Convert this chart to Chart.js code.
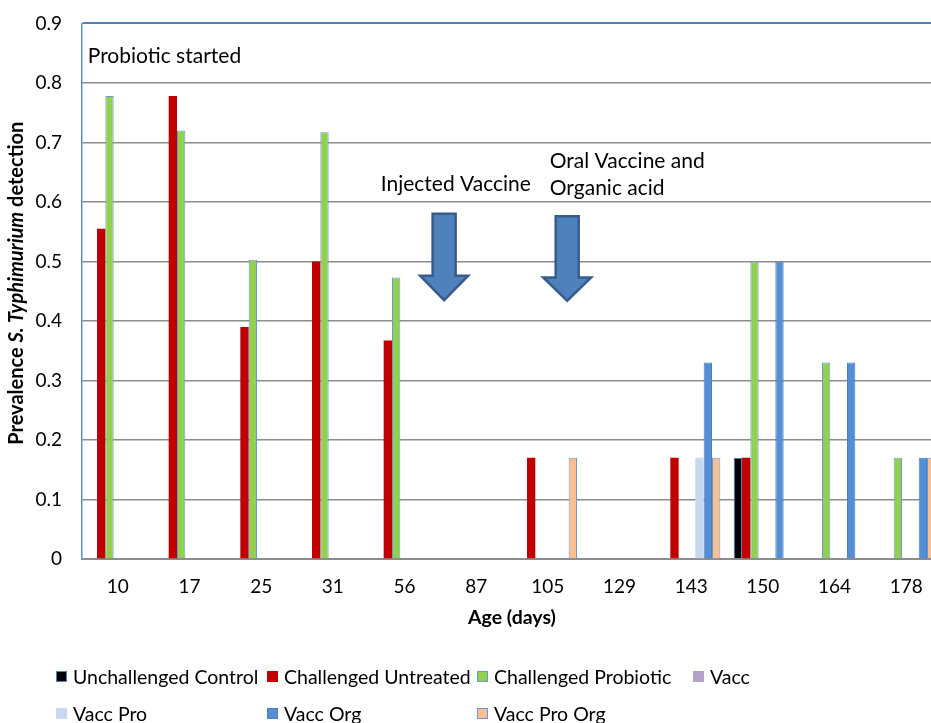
<!DOCTYPE html>
<html><head><meta charset="utf-8">
<script src="https://cdn.jsdelivr.net/npm/chart.js@4"></script>
<style>
html,body{margin:0;padding:0;background:#fff;overflow:hidden;width:931px;height:723px;}
#wrap{position:absolute;left:0;top:-8px;width:945px;height:731px;}
#legend{position:absolute;left:0;top:0;width:931px;height:723px;font-family:Lato,sans-serif;font-size:19.5px;color:#000;}
.li{position:absolute;display:flex;align-items:center;white-space:nowrap;height:24px;transform:translateY(-50%);}
.sw{width:11px;height:11px;box-sizing:border-box;margin-right:6px;}
</style></head><body>
<div id="wrap"><canvas id="c" width="945" height="731"></canvas></div>
<div id="legend"></div>
<script>
// ---- data ----
const categories = ['10','17','25','31','56','87','105','129','143','150','164','178'];
const seriesNames = ['Unchallenged Control','Challenged Untreated','Challenged Probiotic','Vacc','Vacc Pro','Vacc Org','Vacc Pro Org'];
const unchallengedControl = [null,null,null,null,null,null,null,null,null,0.17,null,null];
const challengedUntreated = [0.555,0.778,0.39,0.5,0.367,null,0.17,null,0.17,0.17,null,null];
const challengedProbiotic = [0.778,0.72,0.503,0.717,0.473,null,null,null,null,0.5,0.33,0.17];
const vacc = [null,null,null,null,null,null,null,null,null,null,null,null];
const vaccPro = [null,null,null,null,null,null,null,null,0.17,null,null,null];
const vaccOrg = [null,null,null,null,null,null,null,null,0.33,0.5,0.33,0.17];
const vaccProOrg = [null,null,null,null,null,null,0.17,null,0.17,null,null,0.17];
const yTicks = [0,0.1,0.2,0.3,0.4,0.5,0.6,0.7,0.8,0.9];
const yTickLabels = ['0','0.1','0.2','0.3','0.4','0.5','0.6','0.7','0.8','0.9'];
const xTitle = 'Age (days)';
const yTitleParts = [['Prevalence ', false], ['S. Typhimurium', true], [' detection', false]];

// annotations (positions expressed in axis units)
const textNotes = [
  {text:'Probiotic started', x:-0.42, y:0.845},
  {text:'Injected Vaccine', x:3.669, y:0.63},
  {text:'Oral Vaccine and', x:6.027, y:0.669},
  {text:'Organic acid', x:6.027, y:0.623}
];
const arrows = [
  {x:4.553, top:0.58, neck:0.476, tip:0.435},
  {x:6.27, top:0.576, neck:0.473, tip:0.434}
];

const styles = [
  {bg:'#000000', bd:'#4f81bd', bw:1},
  {bg:'#c00000', bd:'#c00000', bw:0},
  {bg:'#92d050', bd:'#6a9ad6', bw:1},
  {bg:'#b3a2c7', bd:'#b3a2c7', bw:0},
  {bg:'#c6d9f1', bd:'#c6d9f1', bw:0},
  {bg:'#558ed5', bd:'#4a7fc0', bw:1},
  {bg:'#fac090', bd:'#6a9ad6', bw:1}
];
const seriesData = [unchallengedControl, challengedUntreated, challengedProbiotic, vacc, vaccPro, vaccOrg, vaccProOrg];

const FONT = 'Lato';

const overlay = {
  id:'overlay',
  afterDatasetsDraw(chart){
    const ctx = chart.ctx, xs = chart.scales.x, ys = chart.scales.y;
    ctx.save();
    // arrows
    arrows.forEach(a=>{
      const cx = xs.getPixelForValue(a.x);
      const yt = ys.getPixelForValue(a.top), yn = ys.getPixelForValue(a.neck), yp = ys.getPixelForValue(a.tip);
      const sw = 11.5, hw = 24;
      ctx.beginPath();
      ctx.moveTo(cx-sw, yt); ctx.lineTo(cx+sw, yt); ctx.lineTo(cx+sw, yn);
      ctx.lineTo(cx+hw, yn); ctx.lineTo(cx, yp); ctx.lineTo(cx-hw, yn);
      ctx.lineTo(cx-sw, yn); ctx.closePath();
      ctx.fillStyle = '#4f81bd'; ctx.fill();
      ctx.lineWidth = 2.5; ctx.strokeStyle = '#385d8a'; ctx.lineJoin='miter'; ctx.stroke();
    });
    // texts
    ctx.fillStyle = '#000';
    ctx.font = '21px ' + FONT;
    ctx.textAlign = 'left'; ctx.textBaseline = 'middle';
    textNotes.forEach(t=>{
      ctx.fillText(t.text, xs.getPixelForValue(t.x), ys.getPixelForValue(t.y));
    });
    // y title
    ctx.translate(17, (chart.chartArea.top + chart.chartArea.bottom)/2 - 8);
    ctx.rotate(-Math.PI/2);
    let total = 0;
    const fonts = yTitleParts.map(p => (p[1] ? 'italic ' : '') + 'bold 20px ' + FONT);
    yTitleParts.forEach((p,i)=>{ ctx.font = fonts[i]; total += ctx.measureText(p[0]).width; });
    let x = -total/2;
    yTitleParts.forEach((p,i)=>{ ctx.font = fonts[i]; ctx.fillText(p[0], x, 0); x += ctx.measureText(p[0]).width; });
    ctx.restore();
  }
};

const chart = new Chart(document.getElementById('c'), {
  type:'bar',
  data:{
    labels: categories,
    datasets: seriesNames.map((n,i)=>({
      label:n, data:seriesData[i],
      backgroundColor:styles[i].bg, borderColor:styles[i].bd, borderWidth:styles[i].bw,
      categoryPercentage:0.814, barPercentage:1
    }))
  },
  options:{
    responsive:false, animation:false,
    layout:{autoPadding:false, padding:{left:0, top:22, right:3, bottom:94}},
    plugins:{legend:{display:false}, tooltip:{enabled:false}},
    scales:{
      x:{
        grid:{display:false, drawTicks:false},
        border:{display:true, color:'#8c8c8c', width:2},
        ticks:{font:{family:FONT, size:19}, color:'#000', padding:16, maxRotation:0, autoSkip:false},
        title:{display:true, text:xTitle, font:{family:FONT, size:19.5, weight:'bold'}, color:'#000', padding:0},
        afterFit(s){ s.height = 70; }
      },
      y:{
        min:0, max:0.9,
        afterBuildTicks(s){ s.ticks = yTicks.map(v=>({value:v})); },
        ticks:{font:{family:FONT, size:19}, color:'#000', padding:20, callback:(v,i)=>yTickLabels[i]},
        grid:{drawTicks:false, color:c=> (c.tick && c.tick.value>0.85) ? '#4f81bd' : '#8c8c8c', lineWidth:c=> (c.tick && c.tick.value>0.85) ? 2 : 1.5},
        border:{display:true, color:'#5b8fd0', width:1.5},
        afterFit(s){ s.width = 82; }
      }
    }
  },
  plugins:[overlay]
});

// HTML legend built from datasets
const cols = [56, 267, 477, 693];
const rows = [676, 713];
const lg = document.getElementById('legend');
chart.data.datasets.forEach((ds,i)=>{
  const r = i < 4 ? 0 : 1, c = i < 4 ? i : i - 4;
  const d = document.createElement('div');
  d.className = 'li';
  d.style.left = cols[c] + 'px'; d.style.top = rows[r] + 'px';
  const sw = document.createElement('span');
  sw.className = 'sw';
  sw.style.background = ds.backgroundColor;
  if (ds.borderWidth) sw.style.border = '1.5px solid ' + ds.borderColor;
  const tx = document.createElement('span');
  tx.textContent = ds.label;
  d.appendChild(sw); d.appendChild(tx);
  lg.appendChild(d);
});
</script>
</body></html>
